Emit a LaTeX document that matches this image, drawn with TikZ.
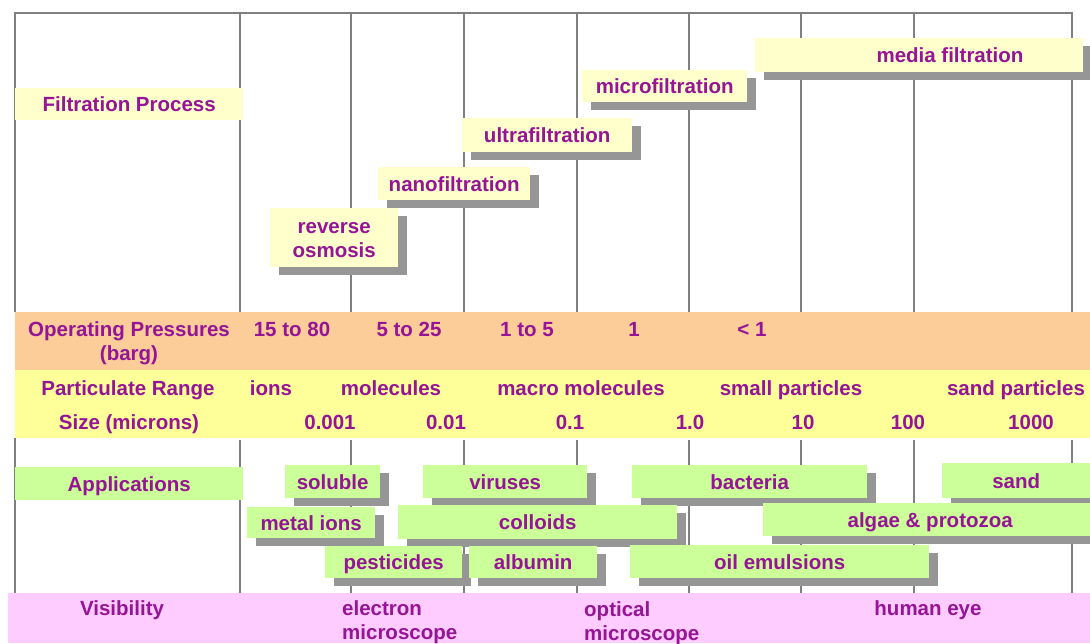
\documentclass[tikz,border=0pt]{standalone}
\usepackage{fontspec}
\setmainfont{Liberation Sans}
\usetikzlibrary{shadows}
\definecolor{txtpurple}{RGB}{150,20,150}
\definecolor{boxyellow}{RGB}{255,255,204}
\definecolor{orangeband}{RGB}{252,204,153}
\definecolor{yellowband}{RGB}{255,255,153}
\definecolor{greenbox}{RGB}{204,255,153}
\definecolor{pinkband}{RGB}{255,204,255}
\definecolor{shadowgray}{RGB}{150,150,150}
\definecolor{linegray}{RGB}{128,128,128}
\tikzset{
  txt/.style={text=txtpurple, font=\fontsize{20.5}{24}\selectfont\bfseries, inner sep=0pt, text height=18pt, text depth=3pt},
  twoline/.style={text height=42pt},
  boxnode/.style={txt, anchor=north west, align=center},
  shadowed/.style={drop shadow={shadow xshift=9pt, shadow yshift=-8pt, fill=shadowgray, opacity=1}},
  procbox/.style={boxnode, fill=boxyellow, shadowed},
  appbox/.style={boxnode, fill=greenbox, shadowed},
  gridline/.style={draw=linegray, line width=2pt},
}
\begin{document}
\begin{tikzpicture}[x=1pt,y=-1pt]
\clip (0,0) rectangle (1090,643);
\fill[white] (0,0) rectangle (1090,643);
% grid
\draw[gridline] (15,312) -- (15,13) -- (1072,13) -- (1072,312);
\foreach \xx in {240,351,464,577,689,801,914}{
  \draw[gridline] (\xx,13) -- (\xx,312);
  \draw[gridline] (\xx,440) -- (\xx,593);
}
\draw[gridline] (15,438) -- (15,593);
\draw[gridline] (1072,440) -- (1072,593);
% bands
\fill[orangeband] (15,312) rectangle (1090,370);
\fill[yellowband] (15,370) rectangle (1090,438);
\fill[pinkband] (8,593) rectangle (1090,643);
% filtration process
\node[boxnode, fill=boxyellow, minimum width=228pt, minimum height=32pt] (fp) at (15,88) {Filtration Process};
\node[procbox, minimum width=328pt, minimum height=34pt] (media) at (755,38) {};
\node[txt] (mediat) at (950,55) {media filtration};
\node[procbox, minimum width=165pt, minimum height=32pt] (micro) at (582,70) {microfiltration};
\node[procbox, minimum width=170pt, minimum height=34pt] (ultra) at (462,118) {ultrafiltration};
\node[procbox, minimum width=152pt, minimum height=33pt] (nano) at (378,167) {nanofiltration};
\node[procbox, twoline, minimum width=128pt, minimum height=59pt] (ro) at (270,208) {reverse\\osmosis};
% pressures
\node[txt, twoline, align=center] (op) at (129,341) {Operating Pressures\\(barg)};
\node[txt] (p1) at (292,329) {15 to 80};
\node[txt] (p2) at (409,329) {5 to 25};
\node[txt] (p3) at (527,329) {1 to 5};
\node[txt] (p4) at (634,329) {1};
\node[txt] (p5) at (752,329) {< 1};
% particulate range
\node[txt] (pr) at (128,388) {Particulate Range};
\node[txt] (r1) at (271,388) {ions};
\node[txt] (r2) at (391,388) {molecules};
\node[txt] (r3) at (581,388) {macro molecules};
\node[txt] (r4) at (791,388) {small particles};
\node[txt] (r5) at (1016,388) {sand particles};
\node[txt] (sz) at (129,422) {Size (microns)};
\node[txt] (s1) at (330,422) {0.001};
\node[txt] (s2) at (446,422) {0.01};
\node[txt] (s3) at (570,422) {0.1};
\node[txt] (s4) at (690,422) {1.0};
\node[txt] (s5) at (803,422) {10};
\node[txt] (s6) at (908,422) {100};
\node[txt] (s7) at (1031,422) {1000};
% applications
\node[boxnode, fill=greenbox, minimum width=228pt, minimum height=33pt] (apps) at (15,467) {Applications};
\node[appbox, minimum width=95pt, minimum height=33pt] (soluble) at (285,465) {soluble};
\node[appbox, minimum width=164pt, minimum height=33pt] (viruses) at (423,465) {viruses};
\node[appbox, minimum width=235pt, minimum height=33pt] (bacteria) at (632,465) {bacteria};
\node[appbox, minimum width=148pt, minimum height=35pt] (sand) at (942,463) {sand};
\node[appbox, minimum width=128pt, minimum height=31pt] (metal) at (247,507) {metal ions};
\node[appbox, minimum width=279pt, minimum height=34pt] (colloids) at (398,505) {colloids};
\node[appbox, minimum width=334pt, minimum height=33pt] (algae) at (763,503) {algae \& protozoa};
\node[appbox, minimum width=137pt, minimum height=32pt] (pest) at (325,546) {pesticides};
\node[appbox, minimum width=128pt, minimum height=32pt] (albumin) at (469,546) {albumin};
\node[appbox, minimum width=299pt, minimum height=33pt] (oil) at (630,545) {oil emulsions};
% visibility
\node[txt] (vis) at (122,608) {Visibility};
\node[txt, twoline, align=left, anchor=west] (em) at (342,620) {electron\\microscope};
\node[txt, twoline, align=left, anchor=west] (om) at (584,621) {optical\\microscope};
\node[txt] (eye) at (928,608) {human eye};
\end{tikzpicture}
\end{document}
